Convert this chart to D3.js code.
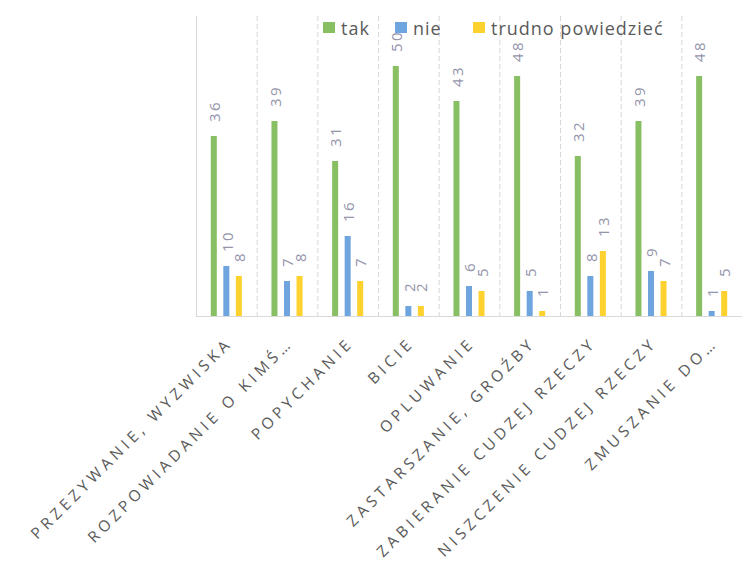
<!DOCTYPE html>
<html>
<head>
<meta charset="utf-8">
<script src="https://cdn.jsdelivr.net/npm/d3@7"></script>
<style>
  html, body { margin: 0; padding: 0; background: #fff; }
  svg { display: block; }
</style>
</head>
<body>
<svg id="chart" width="742" height="578"></svg>
<script>
const categories = [
  "PRZEZYWANIE, WYZWISKA",
  "ROZPOWIADANIE O KIMŚ…",
  "POPYCHANIE",
  "BICIE",
  "OPLUWANIE",
  "ZASTARSZANIE, GROŹBY",
  "ZABIERANIE CUDZEJ RZECZY",
  "NISZCZENIE CUDZEJ RZECZY",
  "ZMUSZANIE DO…"
];
const seriesNames = ["tak", "nie", "trudno powiedzieć"];
const takValues = [36, 39, 31, 50, 43, 48, 32, 39, 48];
const nieValues = [10, 7, 16, 2, 6, 5, 8, 9, 1];
const trudnoValues = [8, 8, 7, 2, 5, 1, 13, 7, 5];
const seriesValues = [takValues, nieValues, trudnoValues];
const colors = ["#88bf63", "#6ea5de", "#fdd22e"];

(function () {
const svg = d3.select("#chart");
const mLeft = 196, mRight = 742, mTop = 16, mBottom = 316;

const x0 = d3.scaleBand().domain(categories).range([mLeft, mRight]).paddingInner(0).paddingOuter(0);
const x1 = d3.scaleBand().domain(seriesNames).range([0, x0.bandwidth()]).paddingInner(0.52).paddingOuter(1.18);
const y = d3.scaleLinear().domain([0, 60]).range([mBottom, mTop]);

const g = svg.append("g");
const bounds = categories.map(c => x0(c));
g.selectAll("line.grid").data(bounds).join("line")
  .attr("x1", d => d + 0.5).attr("x2", d => d + 0.5)
  .attr("y1", mTop).attr("y2", mBottom)
  .attr("stroke", "#d6d6d6").attr("stroke-width", 1)
  .attr("stroke-dasharray", (d, i) => i === 0 ? null : "5,3");

g.append("line").attr("x1", mLeft).attr("x2", mRight).attr("y1", mBottom + 0.5).attr("y2", mBottom + 0.5)
  .attr("stroke", "#d9d9d9").attr("stroke-width", 1);

const groups = svg.append("g").selectAll("g").data(categories).join("g")
  .attr("transform", d => `translate(${x0(d)},0)`);

groups.each(function(cat, ci) {
  const grp = d3.select(this);
  seriesNames.forEach((s, si) => {
    const v = seriesValues[si][ci];
    grp.append("rect")
      .attr("x", x1(s)).attr("width", x1.bandwidth())
      .attr("y", y(v)).attr("height", y(0) - y(v))
      .attr("fill", colors[si]);
    const cx = x1(s) + x1.bandwidth() / 2;
    grp.append("text")
      .attr("transform", `translate(${cx + 1},${y(v) - 14}) rotate(-90)`)
      .attr("dy", "0.35em")
      .attr("text-anchor", "start")
      .attr("font-family", "'Open Sans', sans-serif")
      .attr("font-size", 15)
      .attr("letter-spacing", 2.5)
      .attr("fill", "#9494aa")
      .text(v);
  });
});

svg.append("g").selectAll("text").data(categories).join("text")
  .attr("transform", d => `translate(${x0(d) + x0.bandwidth() / 2 + 7},${mBottom + 28}) rotate(-45)`)
  .attr("text-anchor", "end")
  .attr("font-family", "'Open Sans', sans-serif")
  .attr("font-size", 15.5)
  .attr("letter-spacing", 4.2)
  .attr("fill", "#5a5a5a")
  .text(d => d);

const legendX = [323, 395, 473];
const lg = svg.append("g");
seriesNames.forEach((s, i) => {
  lg.append("rect").attr("x", legendX[i]).attr("y", 22).attr("width", 12).attr("height", 11).attr("fill", colors[i]);
  lg.append("text").attr("x", legendX[i] + 18).attr("y", 34.5)
    .attr("font-family", "'Open Sans', sans-serif")
    .attr("font-size", 18)
    .attr("letter-spacing", 1)
    .attr("fill", "#5a5a5a")
    .text(s);
});
})();
</script>
</body>
</html>
